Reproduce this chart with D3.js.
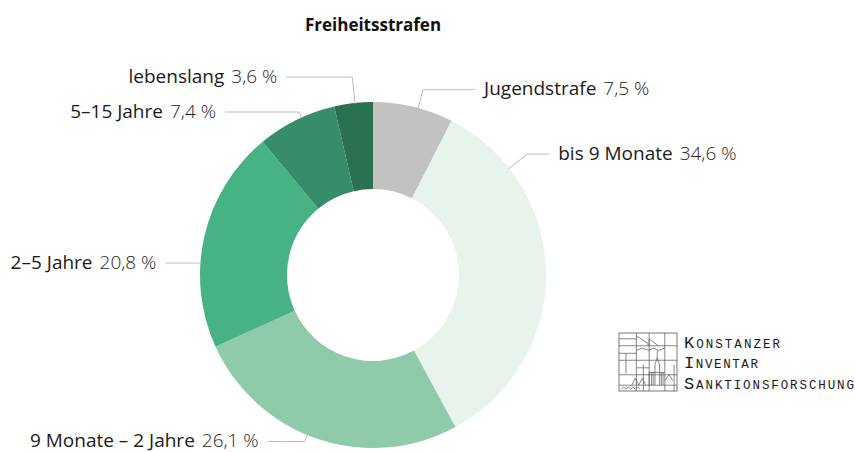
<!DOCTYPE html>
<html>
<head>
<meta charset="utf-8">
<script src="https://cdn.jsdelivr.net/npm/d3@7"></script>
<style>
  body { margin: 0; background: #fff; }
  svg { display: block; }
</style>
</head>
<body>
<svg width="855" height="452"></svg>
<script>
// Daten
const categories = ["Jugendstrafe", "bis 9 Monate", "9 Monate – 2 Jahre", "2–5 Jahre", "5–15 Jahre", "lebenslang"];
const shares = [7.5, 34.6, 26.1, 20.8, 7.4, 3.6];
const colors = ["#c2c2c2", "#e7f3eb", "#8fcaab", "#47b385", "#378d6a", "#2a7152"];
const title = "Freiheitsstrafen";
const logoLines = ["Konstanzer", "Inventar", "Sanktionsforschung"];

// Beschriftungs-Layout: Position im Segment (0..1), Knick-Abstand, Länge der Linie
const labelPos = [0.56, 0.2, 0.54, 0.38, 0.57, 0.54];
const labelElbow = [19, 23, 7, 0, 6, 26];
const labelLeg = [52, 22, 37, 35, 74, 66];

const de = d3.formatLocale({ decimal: ",", thousands: ".", grouping: [3], currency: ["", " €"] });
const fmt = de.format(".1f");

const svg = d3.select("svg");
const cx = 373, cy = 275, rOuter = 173, rInner = 86;
const font = "'Open Sans', 'Noto Sans', sans-serif";

svg.append("text")
    .attr("x", cx)
    .attr("y", 31)
    .attr("text-anchor", "middle")
    .style("font-family", font)
    .style("font-weight", "bold")
    .style("font-size", "17px")
    .style("fill", "#111")
    .text(title);

const data = categories.map((c, i) => ({ cat: c, value: shares[i], i: i }));
const pie = d3.pie().sort(null).value(d => d.value);
const arcs = pie(data);
const arc = d3.arc().innerRadius(rInner).outerRadius(rOuter);

const g = svg.append("g").attr("transform", `translate(${cx}, ${cy})`);

g.selectAll(".slice")
    .data(arcs).enter()
    .append("path")
    .attr("class", "slice")
    .attr("d", arc)
    .style("fill", d => colors[d.data.i]);

// Führungslinien + Texte
const polar = (a, r) => [r * Math.sin(a), -r * Math.cos(a)];

arcs.forEach(d => {
    const i = d.data.i;
    const a = d.startAngle + (d.endAngle - d.startAngle) * labelPos[i];
    const p0 = polar(a, rOuter - 1);
    const p1 = polar(a, rOuter + labelElbow[i]);
    const right = p1[0] > 0;
    const p2 = [p1[0] + (right ? labelLeg[i] : -labelLeg[i]), p1[1]];

    g.append("path")
        .attr("d", d3.line()([p0, p1, p2]))
        .attr("fill", "none")
        .attr("stroke", "#bdbdbd")
        .attr("stroke-width", 1);

    const t = g.append("text")
        .attr("x", p2[0] + (right ? 9 : -9))
        .attr("y", p2[1])
        .attr("dy", "0.3em")
        .attr("text-anchor", right ? "start" : "end")
        .style("font-family", font)
        .style("font-size", "19px");
    t.append("tspan")
        .style("fill", "#1a1a1a")
        .text(d.data.cat);
    t.append("tspan")
        .attr("dx", 7)
        .style("fill", "#262626")
        .style("font-weight", 300)
        .text(fmt(d.data.value) + " %");
});

// Logo
const logo = svg.append("g").attr("transform", "translate(619, 333)");
const ls = d3.scaleLinear().domain([0, 1]).range([0, 58]);
const logoStroke = "#555";
logo.append("rect")
    .attr("x", 0).attr("y", 0)
    .attr("width", ls(1)).attr("height", ls(1))
    .attr("fill", "none").attr("stroke", logoStroke).attr("stroke-width", 0.8);

const vLines = [[0.3, 0, 1], [0.52, 0, 1], [0.79, 0, 1], [0.12, 0.35, 0.7], [0.42, 0.55, 1], [0.95, 0.55, 1]];
const hLines = [[0.22, 0, 1], [0.47, 0, 1], [0.72, 0, 1], [0.9, 0, 1], [0.1, 0, 0.3], [0.35, 0, 0.3], [0.6, 0.3, 0.52]];
vLines.forEach(v => logo.append("line")
    .attr("x1", ls(v[0])).attr("x2", ls(v[0]))
    .attr("y1", ls(v[1])).attr("y2", ls(v[2]))
    .attr("stroke", logoStroke).attr("stroke-width", 0.7));
hLines.forEach(h => logo.append("line")
    .attr("y1", ls(h[0])).attr("y2", ls(h[0]))
    .attr("x1", ls(h[1])).attr("x2", ls(h[2]))
    .attr("stroke", logoStroke).attr("stroke-width", 0.7));

// Kirche / Münster-Skizze
const sketch = [
    [[0.62, 0.9], [0.62, 0.55], [0.66, 0.42], [0.7, 0.55], [0.7, 0.9]],
    [[0.66, 0.42], [0.66, 0.3]],
    [[0.52, 0.9], [0.52, 0.68], [0.79, 0.68]],
    [[0.56, 0.68], [0.56, 0.9]], [[0.59, 0.68], [0.59, 0.9]],
    [[0.73, 0.68], [0.73, 0.9]], [[0.76, 0.68], [0.76, 0.9]],
    [[0.79, 0.82], [0.86, 0.72], [0.93, 0.82]],
    [[0.3, 0.05], [0.5, 0.18]], [[0.5, 0.18], [0.5, 0.22]],
    [[0.52, 0.22], [0.52, 0.1], [0.68, 0.22]],
    [[0.22, 0.9], [0.28, 0.78], [0.34, 0.9], [0.4, 0.78], [0.46, 0.9]],
    [[0.04, 0.97], [0.08, 0.93], [0.12, 0.97], [0.16, 0.93], [0.2, 0.97], [0.24, 0.93], [0.28, 0.97], [0.32, 0.93], [0.36, 0.97]],
    [[0.3, 0.3], [0.4, 0.26], [0.52, 0.3]],
    [[0.52, 0.3], [0.6, 0.26], [0.68, 0.3], [0.79, 0.26]]
];
const logoLine = d3.line().x(p => ls(p[0])).y(p => ls(p[1]));
sketch.forEach(s => logo.append("path")
    .attr("d", logoLine(s))
    .attr("fill", "none").attr("stroke", logoStroke).attr("stroke-width", 0.7));

const logoLen = [96, 74, 170];
logoLines.forEach((w, i) => {
    const t = svg.append("text")
        .attr("x", 684)
        .attr("y", 348 + i * 20.3)
        .attr("textLength", logoLen[i])
        .attr("lengthAdjust", "spacing")
        .style("font-family", "'Liberation Mono', 'DejaVu Sans Mono', monospace")
        .style("fill", "#1a1a1a");
    t.append("tspan").style("font-size", "17px").text(w[0].toUpperCase());
    t.append("tspan").style("font-size", "12.5px").text(w.slice(1).toUpperCase());
});
</script>
</body>
</html>
